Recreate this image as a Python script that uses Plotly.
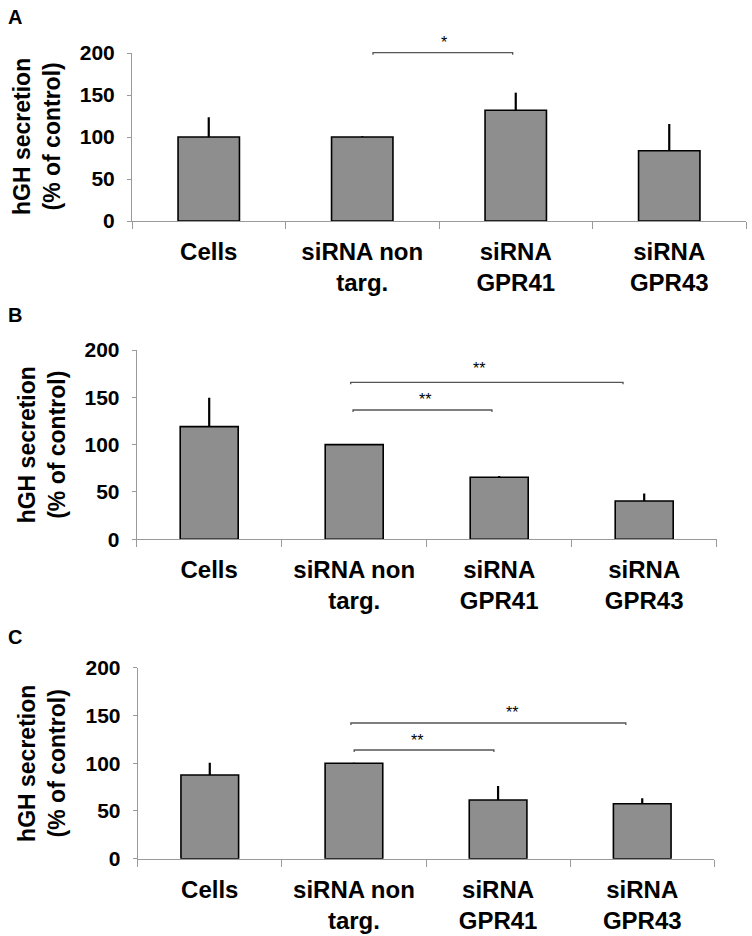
import plotly.graph_objects as go

# ---------------- data ----------------
categories = ["Cells", "siRNA non<br>targ.", "siRNA<br>GPR41", "siRNA<br>GPR43"]
y_ticks = [0, 50, 100, 150, 200]

a_values = [100, 100, 131.8, 83.7]
a_errors = [23.5, 1.0, 21.0, 31.8]
b_values = [119, 100, 65.5, 40.5]
b_errors = [30.6, 0.6, 1.5, 8.0]
c_values = [87.6, 100, 61.5, 57.6]
c_errors = [13.0, 0.6, 14.5, 5.6]

# significance brackets: (from category, to category, height, label, label x, label y)
a_sig = [(1.07, 1.98, 200.4, "*", 1.53, 213)]
b_sig = [(0.976, 2.854, 165.8, "**", 1.86, 180), (0.992, 1.95, 136.6, "**", 1.49, 148)]
c_sig = [(0.979, 2.886, 142.1, "**", 2.10, 153), (1.002, 1.971, 113.8, "**", 1.44, 124)]

panel_letters = ["A", "B", "C"]

# ---------------- layout geometry (page pixels) ----------------
W, H = 752, 936
panels = [
    dict(x0=132.0, x1=746.0, top=53.0, bottom=221.0, vals=a_values, errs=a_errors, sig=a_sig, letter_y=16.5),
    dict(x0=136.7, x1=716.7, top=350.0, bottom=539.3, vals=b_values, errs=b_errors, sig=b_sig, letter_y=315),
    dict(x0=137.7, x1=714.3, top=667.7, bottom=858.7, vals=c_values, errs=c_errors, sig=c_sig, letter_y=636.5),
]

FONT = "Arial, Liberation Sans, Helvetica, sans-serif"
AXIS_COLOR = "#9a9a9a"
Y_MAX = 200


def px(x):
    return x / W


def py(y):
    return 1 - y / H


fig = go.Figure()
layout = dict(
    template="none",
    width=W, height=H,
    margin=dict(l=0, r=0, t=0, b=0, autoexpand=False),
    paper_bgcolor="white", plot_bgcolor="white",
    showlegend=False, bargap=0.6,
    font=dict(family=FONT, color="black"),
)
shapes, annotations = [], []

for i, p in enumerate(panels):
    n = "" if i == 0 else str(i + 1)
    xa, ya = "x" + n, "y" + n

    fig.add_trace(go.Bar(
        x=categories, y=p["vals"], xaxis=xa, yaxis=ya,
        marker=dict(color="#8e8e8e", line=dict(color="black", width=1.6)),
        error_y=dict(type="data", symmetric=False, array=p["errs"],
                     arrayminus=[0] * len(p["errs"]), color="black",
                     thickness=2.2, width=0),
        hoverinfo="skip",
    ))

    layout["xaxis" + n] = dict(
        domain=[px(p["x0"]), px(p["x1"])], anchor=ya, type="category",
        range=[-0.5, len(categories) - 0.5],
        showline=True, linecolor=AXIS_COLOR, linewidth=1, automargin=False,
        ticks="outside", tickson="boundaries", ticklen=7, tickcolor=AXIS_COLOR,
        tickfont=dict(family=FONT, size=24, weight="bold", color="black"),
        showgrid=False, zeroline=False, ticklabelstandoff=9,
    )
    layout["yaxis" + n] = dict(
        domain=[py(p["bottom"]), py(p["top"])], anchor=xa, range=[0, Y_MAX], tickvals=y_ticks,
        showline=True, linecolor=AXIS_COLOR, linewidth=1, automargin=False,
        ticks="outside", ticklen=4, tickcolor=AXIS_COLOR,
        tickfont=dict(family=FONT, size=21, weight="bold", color="black"),
        showgrid=False, zeroline=False, ticklabelstandoff=8,
    )

    annotations.append(dict(
        text="hGH secretion<br>(% of control)", textangle=-90,
        x=px(p["x0"] - 95), y=py((p["top"] + p["bottom"]) / 2),
        xref="paper", yref="paper", xanchor="center", yanchor="middle",
        showarrow=False, font=dict(family=FONT, size=23, weight="bold", color="black"),
    ))
    annotations.append(dict(
        text=panel_letters[i], x=px(6), y=py(p["letter_y"]),
        xref="paper", yref="paper", xanchor="left", yanchor="middle",
        showarrow=False, font=dict(family=FONT, size=20, weight="bold", color="black"),
    ))

    ncat = len(categories)

    def to_px_x(c, p=p):
        return p["x0"] + (c + 0.5) / ncat * (p["x1"] - p["x0"])

    def to_px_y(v, p=p):
        return p["bottom"] - v / Y_MAX * (p["bottom"] - p["top"])

    for (c0, c1, h, lab, lx, ly) in p["sig"]:
        X0, X1, Y = px(to_px_x(c0)), px(to_px_x(c1)), py(to_px_y(h))
        tick = 2.0 / H
        shapes.append(dict(type="path", xref="paper", yref="paper",
                           path=f"M{X0},{Y - tick} L{X0},{Y} L{X1},{Y} L{X1},{Y - tick}",
                           line=dict(color="#555555", width=1.3)))
        annotations.append(dict(text=lab, x=px(to_px_x(lx)), y=py(to_px_y(ly)),
                                xref="paper", yref="paper",
                                xanchor="center", yanchor="middle", showarrow=False,
                                font=dict(family=FONT, size=16, color="black")))

layout["shapes"] = shapes
layout["annotations"] = annotations
fig.update_layout(**layout)
# remove the browser's default page margin so the figure sits at the page origin
fig.write_html("out.html", config={"displayModeBar": False},
               post_script="document.body.style.margin='0';")
